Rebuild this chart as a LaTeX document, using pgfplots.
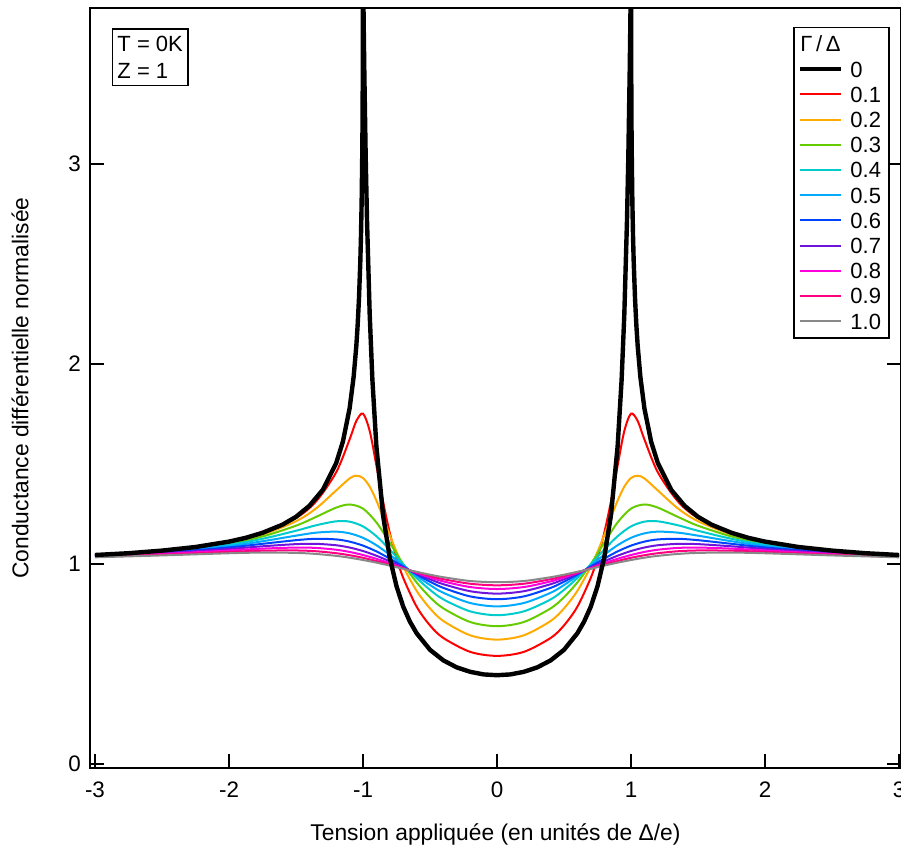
\documentclass[border=0pt]{standalone}
\usepackage{fontspec}
\setmainfont{Liberation Sans}
\usepackage{pgfplots}
\usepackage{pgfplotstable}
\pgfplotsset{compat=1.18}

\definecolor{c1}{RGB}{255,0,0}
\definecolor{c2}{RGB}{255,170,0}
\definecolor{c3}{RGB}{102,204,0}
\definecolor{c4}{RGB}{0,204,204}
\definecolor{c5}{RGB}{0,170,255}
\definecolor{c6}{RGB}{0,68,255}
\definecolor{c7}{RGB}{110,20,220}
\definecolor{c8}{RGB}{255,0,220}
\definecolor{c9}{RGB}{255,0,128}
\definecolor{c10}{RGB}{136,136,136}

% Gamma/Delta = 0.1 and 0.2
\pgfplotstableread{
x g1 g2
-3 1.0446 1.0442
-2.5 1.0664 1.0656
-2 1.1106 1.1076
-1.75 1.1534 1.1472
-1.5 1.2300 1.2138
-1.35 1.3130 1.2780
-1.2 1.4590 1.3680
-1.1 1.6230 1.4280
-1.05 1.7150 1.4416
-1 1.7520 1.4300
-0.95 1.6650 1.3870
-0.9 1.4920 1.3170
-0.85 1.3110 1.2320
-0.8 1.1550 1.1440
-0.75 1.0304 1.0610
-0.7 0.9310 0.9865
-0.6 0.7870 0.8660
-0.5 0.6930 0.7780
-0.4 0.6300 0.7150
-0.2 0.5607 0.6435
0 0.5407 0.6220
0.2 0.5607 0.6435
0.4 0.6300 0.7150
0.5 0.6930 0.7780
0.6 0.7870 0.8660
0.7 0.9310 0.9865
0.75 1.0304 1.0610
0.8 1.1550 1.1440
0.85 1.3110 1.2320
0.9 1.4920 1.3170
0.95 1.6650 1.3870
1 1.7520 1.4300
1.05 1.7150 1.4416
1.1 1.6230 1.4280
1.2 1.4590 1.3680
1.35 1.3130 1.2780
1.5 1.2300 1.2138
1.75 1.1534 1.1472
2 1.1106 1.1076
2.5 1.0664 1.0656
3 1.0446 1.0442
}\lowg

% Gamma/Delta = 0.3 ... 1.0
\pgfplotstableread{
x g3 g4 g5 g6 g7 g8 g9 g10
-3 1.0436 1.0427 1.0414 1.0405 1.0393 1.0379 1.0358 1.0335
-2.5 1.0640 1.0618 1.0592 1.0564 1.0534 1.0500 1.0466 1.0430
-2 1.1031 1.0972 1.0902 1.0830 1.0754 1.0678 1.0606 1.0538
-1.75 1.1378 1.1262 1.1138 1.1010 1.0886 1.0770 1.0666 1.0572
-1.5 1.1915 1.1662 1.1418 1.1192 1.0994 1.0823 1.0678 1.0556
-1.35 1.2356 1.1937 1.1568 1.1260 1.1008 1.0804 1.0638 1.0504
-1.2 1.2820 1.2135 1.1618 1.1230 1.0938 1.0714 1.0540 1.0408
-1.1 1.2976 1.2118 1.1533 1.1120 1.0824 1.0604 1.0440 1.0316
-1 1.2770 1.1880 1.1310 1.0920 1.0650 1.0450 1.0310 1.0200
-0.9 1.2080 1.1390 1.0940 1.0630 1.0415 1.0260 1.0150 1.0070
-0.8 1.1060 1.0720 1.0460 1.0270 1.0134 1.0037 0.9970 0.9920
-0.7 1.0000 0.9986 0.9930 0.9875 0.9830 0.9796 0.9780 0.9760
-0.6 0.9080 0.9300 0.9410 0.9480 0.9520 0.9560 0.9586 0.9610
-0.5 0.8340 0.8710 0.8950 0.9116 0.9238 0.9330 0.9404 0.9466
-0.4 0.7780 0.8230 0.8560 0.8806 0.8990 0.9130 0.9240 0.9340
-0.2 0.7100 0.7633 0.8050 0.8380 0.8640 0.8848 0.9014 0.9150
0 0.6890 0.7440 0.7880 0.8240 0.8520 0.8750 0.8935 0.9090
0.2 0.7100 0.7633 0.8050 0.8380 0.8640 0.8848 0.9014 0.9150
0.4 0.7780 0.8230 0.8560 0.8806 0.8990 0.9130 0.9240 0.9340
0.5 0.8340 0.8710 0.8950 0.9116 0.9238 0.9330 0.9404 0.9466
0.6 0.9080 0.9300 0.9410 0.9480 0.9520 0.9560 0.9586 0.9610
0.7 1.0000 0.9986 0.9930 0.9875 0.9830 0.9796 0.9780 0.9760
0.8 1.1060 1.0720 1.0460 1.0270 1.0134 1.0037 0.9970 0.9920
0.9 1.2080 1.1390 1.0940 1.0630 1.0415 1.0260 1.0150 1.0070
1 1.2770 1.1880 1.1310 1.0920 1.0650 1.0450 1.0310 1.0200
1.1 1.2976 1.2118 1.1533 1.1120 1.0824 1.0604 1.0440 1.0316
1.2 1.2820 1.2135 1.1618 1.1230 1.0938 1.0714 1.0540 1.0408
1.35 1.2356 1.1937 1.1568 1.1260 1.1008 1.0804 1.0638 1.0504
1.5 1.1915 1.1662 1.1418 1.1192 1.0994 1.0823 1.0678 1.0556
1.75 1.1378 1.1262 1.1138 1.1010 1.0886 1.0770 1.0666 1.0572
2 1.1031 1.0972 1.0902 1.0830 1.0754 1.0678 1.0606 1.0538
2.5 1.0640 1.0618 1.0592 1.0564 1.0534 1.0500 1.0466 1.0430
3 1.0436 1.0427 1.0414 1.0405 1.0393 1.0379 1.0358 1.0335
}\highg

% Gamma/Delta = 0
\pgfplotstableread{
x g0
-3 1.045
-2.75 1.054
-2.5 1.067
-2.25 1.085
-2 1.112
-1.875 1.131
-1.75 1.156
-1.6 1.197
-1.5 1.236
-1.4 1.291
-1.3 1.371
-1.2 1.505
-1.15 1.612
-1.1 1.778
-1.07 1.935
-1.05 2.089
-1.04 2.193
-1.03 2.327
-1.02 2.514
-1.015 2.642
-1.01 2.815
-1.005 3.080
-1.0025 3.301
-1 4.0
-0.995 3.704
-0.99 3.451
-0.98 3.037
-0.97 2.716
-0.95 2.247
-0.93 1.922
-0.9 1.587
-0.85 1.242
-0.8 1.031
-0.75 0.889
-0.7 0.787
-0.65 0.712
-0.6 0.654
-0.5 0.571
-0.4 0.518
-0.3 0.483
-0.2 0.461
-0.1 0.448
0 0.444
0.1 0.448
0.2 0.461
0.3 0.483
0.4 0.518
0.5 0.571
0.6 0.654
0.65 0.712
0.7 0.787
0.75 0.889
0.8 1.031
0.85 1.242
0.9 1.587
0.93 1.922
0.95 2.247
0.97 2.716
0.98 3.037
0.99 3.451
0.995 3.704
1 4.0
1.0025 3.301
1.005 3.080
1.01 2.815
1.015 2.642
1.02 2.514
1.03 2.327
1.04 2.193
1.05 2.089
1.07 1.935
1.1 1.778
1.15 1.612
1.2 1.505
1.3 1.371
1.4 1.291
1.5 1.236
1.6 1.197
1.75 1.156
1.875 1.131
2 1.112
2.25 1.085
2.5 1.067
2.75 1.054
3 1.045
}\btk

\begin{document}
\begin{tikzpicture}
\begin{axis}[
  scale only axis,
  width=405.5pt, height=380pt,
  xmin=-3.0373, xmax=3.0149, ymin=-0.02, ymax=3.78,
  xtick={-3,-2,-1,0,1,2,3}, xticklabels={-3,-2,-1,0,1,2,3},
  ytick={0,1,2,3}, yticklabels={0,1,2,3},
  tick align=inside, xtick pos=left, ytick pos=both,
  major tick length=7pt,
  axis line style={line width=0.8pt},
  major tick style={line width=0.8pt, black},
  ticklabel style={font=\fontsize{11.2}{13}\selectfont},
  xticklabel style={yshift=-3.5pt},
  yticklabel style={xshift=-1pt},
  xlabel={Tension appliquée (en unités de Δ/e)},
  ylabel={Conductance différentielle normalisée},
  label style={font=\fontsize{11.4}{13.5}\selectfont},
  xlabel style={at={(axis description cs:0.5,-0.088)}, anchor=center},
  ylabel style={at={(axis description cs:-0.0863,0.5)}, anchor=center},
  legend cell align=left,
  legend image code/.code={\draw[#1] (0pt,0pt) -- (20.5pt,0pt);},
  legend style={at={(rel axis cs:0.8672,0.9754)}, anchor=north west,
    draw=black, line width=0.75pt, font=\fontsize{11}{13}\selectfont,
    inner xsep=2pt, inner ysep=2pt, row sep=0pt, column sep=1.5pt,
    nodes={inner ysep=2pt, text height=8.2pt, text depth=0.4pt}},
]
\addlegendimage{empty legend}\addlegendentry{\hspace*{-27pt}Γ\,/\,Δ}
\addlegendimage{black, line width=2.2pt}\addlegendentry{0}
\addlegendimage{c1, line width=1pt}\addlegendentry{0.1}
\addlegendimage{c2, line width=1pt}\addlegendentry{0.2}
\addlegendimage{c3, line width=1pt}\addlegendentry{0.3}
\addlegendimage{c4, line width=1pt}\addlegendentry{0.4}
\addlegendimage{c5, line width=1pt}\addlegendentry{0.5}
\addlegendimage{c6, line width=1pt}\addlegendentry{0.6}
\addlegendimage{c7, line width=1pt}\addlegendentry{0.7}
\addlegendimage{c8, line width=1pt}\addlegendentry{0.8}
\addlegendimage{c9, line width=1pt}\addlegendentry{0.9}
\addlegendimage{c10, line width=1pt}\addlegendentry{1.0}

\addplot[c1, line width=1pt, smooth, forget plot] table[x=x, y=g1] {\lowg};
\addplot[c2, line width=1pt, smooth, forget plot] table[x=x, y=g2] {\lowg};
\addplot[c3, line width=1pt, smooth, forget plot] table[x=x, y=g3] {\highg};
\addplot[c4, line width=1pt, smooth, forget plot] table[x=x, y=g4] {\highg};
\addplot[c5, line width=1pt, smooth, forget plot] table[x=x, y=g5] {\highg};
\addplot[c6, line width=1pt, smooth, forget plot] table[x=x, y=g6] {\highg};
\addplot[c7, line width=1pt, smooth, forget plot] table[x=x, y=g7] {\highg};
\addplot[c8, line width=1pt, smooth, forget plot] table[x=x, y=g8] {\highg};
\addplot[c9, line width=1pt, smooth, forget plot] table[x=x, y=g9] {\highg};
\addplot[c10, line width=1pt, smooth, forget plot] table[x=x, y=g10] {\highg};
\addplot[black, line width=2.2pt, line join=round, forget plot] table[x=x, y=g0] {\btk};

\node[draw, line width=0.75pt, align=left, anchor=north west, inner xsep=2.5pt, inner ysep=3.5pt, font=\fontsize{11}{13.5}\selectfont] at (rel axis cs:0.0268,0.9733) {T = 0K\\Z = 1};
\end{axis}
\pgfresetboundingbox
\useasboundingbox ([xshift=-45pt,yshift=-40pt]current axis.south west) rectangle ([yshift=4pt]current axis.north east);
\end{tikzpicture}
\end{document}
